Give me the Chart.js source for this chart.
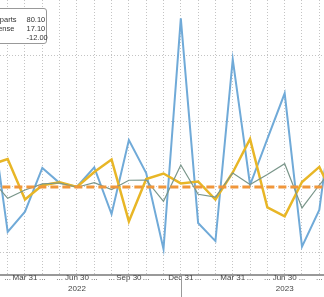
<!DOCTYPE html>
<html>
<head>
<meta charset="utf-8">
<script src="https://cdn.jsdelivr.net/npm/chart.js@4"></script>
<style>
  html, body { margin: 0; padding: 0; background: #fff; overflow: hidden; }
  #wrap { position: relative; width: 324px; height: 297px; overflow: hidden; }
  #legend {
    position: absolute; left: -30px; top: 8px; width: 75px; height: 34px;
    background: #fff; border: 1px solid #999; border-radius: 3px;
    font: 7.5px "Liberation Sans Narrow", "Liberation Sans", Arial, sans-serif; color: #333; z-index: 2;
  }
  #legend div { position: absolute; left: 3px; white-space: nowrap; }
  #legend span { position: absolute; left: 52.5px; }
</style>
</head>
<body>
<div id="wrap">
  <canvas id="chart" width="324" height="297"></canvas>
  <div id="legend"></div>
</div>
<script>
const months = ['Jan 31', 'Feb 28', 'Mar 31', 'Apr 30', 'May 31', 'Jun 30', 'Jul 31', 'Aug 31', 'Sep 30', 'Oct 31', 'Nov 30', 'Dec 31',
                'Jan 31', 'Feb 28', 'Mar 31', 'Apr 30', 'May 31', 'Jun 30', 'Jul 31', 'Aug 31', 'Sep 30'];
const years = ['2022', '2022', '2022', '2022', '2022', '2022', '2022', '2022', '2022', '2022', '2022', '2022',
               '2023', '2023', '2023', '2023', '2023', '2023', '2023', '2023', '2023'];
const quarterEnds = ['Mar 31', 'Jun 30', 'Sep 30', 'Dec 31'];

const aircraftParts = [60.6, -34.1, -18.7, 14.4, 3.0, 0.2, 14.8, -20.5, 35.6, 10.6, -47.0, 127.8,
                       -27.3, -41.0, 96.7, 1.5, 36.4, 71.0, -45.2, -17.4, 80.1];
const nondefense = [6.8, -8.6, -2.3, 2.3, 3.0, -0.2, 3.3, -1.9, 5.1, 5.3, -10.9, 16.7,
                    -5.5, -7.7, 10.6, 1.9, 9.5, 17.6, -15.9, 1.5, 17.1];
const durable = [16.7, 21.2, -9.5, 1.3, 3.5, 0.0, 11.4, 20.8, -26.1, 6.1, 10.2, 2.7,
                 4.2, -9.5, 11.0, 36.4, -15.5, -22.3, 3.8, 15.2, -12.0];
const refLevel = 0;

const legendItems = [
  ['Aircraft parts', aircraftParts],
  ['Nondefense', nondefense],
  ['Durable', durable],
];

const toXY = arr => arr.map((v, i) => ({x: i, y: v}));

// legend box (cut off on the left like the reference)
const legendEl = document.getElementById('legend');
legendItems.forEach(([name, arr], i) => {
  const row = document.createElement('div');
  row.style.top = (6 + i * 9) + 'px';
  const last = arr[arr.length - 1];
  row.innerHTML = name + '<span>' + last.toFixed(2) + '</span>';
  legendEl.appendChild(row);
});

const yearTick = {
  id: 'yearTick',
  afterDraw(chart) {
    const {ctx, scales: {x}} = chart;
    const px = Math.round(x.getPixelForValue(months.indexOf('Dec 31'))) + 0.5;
    ctx.save();
    ctx.strokeStyle = '#999';
    ctx.lineWidth = 1;
    ctx.beginPath();
    ctx.moveTo(px, chart.chartArea.bottom);
    ctx.lineTo(px, chart.height);
    ctx.stroke();
    ctx.restore();
  }
};

new Chart(document.getElementById('chart'), {
  type: 'line',
  data: {
    datasets: [
      {
        label: 'ref',
        data: [{x: 0, y: refLevel}, {x: months.length - 1, y: refLevel}],
        borderColor: '#f0963a',
        borderWidth: 3,
        borderDash: [8, 4],
        order: 0,
      },
      {
        label: 'Nondefense',
        data: toXY(nondefense),
        borderColor: '#7a968a',
        borderWidth: 1.2,
        order: 1,
      },
      {
        label: 'Durable',
        data: toXY(durable),
        borderColor: '#e8b626',
        borderWidth: 2.5,
        order: 2,
      },
      {
        label: 'Aircraft parts',
        data: toXY(aircraftParts),
        borderColor: '#70aad8',
        borderWidth: 2,
        order: 3,
      },
    ],
  },
  options: {
    responsive: false,
    animation: false,
    layout: {padding: {left: 0, right: 0, top: 0, bottom: 6}},
    elements: {point: {radius: 0}, line: {tension: 0}},
    plugins: {legend: {display: false}, tooltip: {enabled: false}},
    scales: {
      x: {
        type: 'linear',
        min: 0.556,
        max: 19.271,
        afterBuildTicks: scale => {
          scale.ticks = months.map((m, i) => ({value: i})).filter(t => t.value >= 1 && t.value <= 19);
        },
        ticks: {
          autoSkip: false,
          maxRotation: 0,
          padding: -2.6,
          color: '#444',
          font: {family: '"Liberation Sans", Arial, sans-serif', size: 8, lineHeight: '10.6px'},
          callback: v => {
            const m = months[v];
            if (!quarterEnds.includes(m)) return '...';
            return m.startsWith('Jun') ? [m, years[v]] : m;
          },
        },
        grid: {color: '#c4c4c4', drawTicks: false, lineWidth: 1},
        border: {display: true, color: '#999', width: 2, dash: [1, 2]},
      },
      y: {
        min: -66.7,
        max: 141.7,
        afterBuildTicks: scale => {
          scale.ticks = [-50, 0, 50, 100].map(v => ({value: v}));
        },
        ticks: {display: false},
        grid: {color: '#c4c4c4', drawTicks: false, lineWidth: 1},
        border: {display: false, dash: [1, 2]},
      },
    },
  },
  plugins: [yearTick],
});
</script>
</body>
</html>
